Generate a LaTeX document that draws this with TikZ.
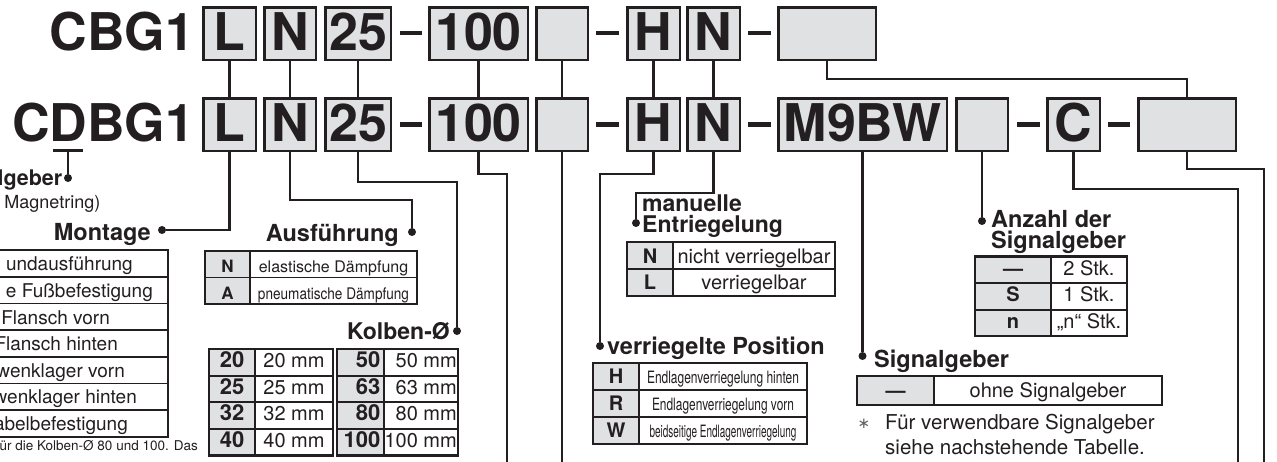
\documentclass[tikz,border=0pt]{standalone}
\usepackage{fontspec}
\setmainfont{TeX Gyre Heros}
\newfontfamily\djv{DejaVu Sans}
\usepackage{graphicx}
\definecolor{ink}{RGB}{35,31,32}
\definecolor{boxgray}{RGB}{224,225,226}
\newcommand\fs[1]{\fontsize{#1}{#1}\selectfont}
\tikzset{
 codetxt/.style={font=\bfseries\fs{52}, text=ink, inner sep=0pt},
 codebox/.style={draw=ink, line width=2.5pt, fill=boxgray, minimum height=52.5pt, inner sep=0pt, font=\bfseries\fs{52}, text=ink, text height=34pt, text depth=0pt},
 conn/.style={draw=ink, line width=2.2pt},
 dashmark/.style={draw=ink, line width=4.5pt},
 dot/.style={circle, fill=ink, inner sep=0pt, minimum size=8pt},
 lbl/.style={font=\bfseries\fs{23.5}, text=ink, inner sep=0pt},
 tx/.style={font=\fs{20}, text=ink, inner sep=0pt},
 txb/.style={font=\bfseries\fs{20}, text=ink, inner sep=0pt},
 frame/.style={draw=ink, line width=2.5pt},
 rule/.style={draw=ink, line width=1.8pt},
 graycell/.style={fill=boxgray},
}
\begin{document}
\begin{tikzpicture}[x=1pt,y=-1pt]
\useasboundingbox (0,0) rectangle (1277,461);
\clip (0,0) rectangle (1277,461);
\fill[white] (0,0) rectangle (1277,461);

% ---------- code rows ----------
\node[codetxt, anchor=base east] (t1) at (194.3,50.5) {CBG1};
\node[codetxt, anchor=base east] (t2) at (194.3,141.5) {CDBG1};

\node[codebox, minimum width=52.5pt] (a1) at (229.5,33.5) {L};
\node[codebox, minimum width=51.5pt] (b1) at (290,33.5) {N};
\node[codebox, minimum width=65.5pt] (c1) at (358,33.5) {25};
\node[codebox, minimum width=98.5pt] (d1) at (478.5,33.5) {100};
\node[codebox, minimum width=51.5pt] (e1) at (562,33.5) {};
\node[codebox, minimum width=52.5pt] (f1) at (653.5,33.5) {H};
\node[codebox, minimum width=52.5pt] (g1) at (713.5,33.5) {N};
\node[codebox, minimum width=97.5pt] (h1) at (827,33.5) {};

\node[codebox, minimum width=52.5pt] (a2) at (229.5,124.5) {L};
\node[codebox, minimum width=51.5pt] (b2) at (290,124.5) {N};
\node[codebox, minimum width=65.5pt] (c2) at (358,124.5) {25};
\node[codebox, minimum width=98.5pt] (d2) at (478.5,124.5) {100};
\node[codebox, minimum width=51.5pt] (e2) at (562,124.5) {};
\node[codebox, minimum width=52.5pt] (f2) at (653.5,124.5) {H};
\node[codebox, minimum width=52.5pt] (g2) at (713.5,124.5) {N};
\node[codebox, minimum width=168.5pt] (m2) at (862.5,124.5) {M9BW};
\node[codebox, minimum width=51.5pt] (s2) at (982,124.5) {};
\node[codebox, minimum width=52.5pt] (k2) at (1073.5,124.5) {C};
\node[codebox, minimum width=97.5pt] (x2) at (1187,124.5) {};

% dashes
\draw[dashmark] (400,33) -- (422,33);
\draw[dashmark] (596,33) -- (619,33);
\draw[dashmark] (748,33) -- (771,33);
\draw[dashmark] (400,124.5) -- (422,124.5);
\draw[dashmark] (596,124.5) -- (619,124.5);
\draw[dashmark] (748,124.5) -- (771,124.5);
\draw[dashmark] (1017,124.5) -- (1040,124.5);
\draw[dashmark] (1108,124.5) -- (1130,124.5);

% row1 -> row2
\draw[conn] (a1.south) -- (a2.north);
\draw[conn] (b1.south) -- (b2.north);
\draw[conn] (c1.south) -- (c2.north);
\draw[conn] (d1.south) -- (d2.north);
\draw[conn] (e1.south) -- (e2.north);
\draw[conn] (f1.south) -- (f2.north);
\draw[conn] (g1.south) -- (g2.north);
\draw[conn] (h1.south) -- ++(0,18) -| (x2.north);

% ---------- dots / label anchors ----------
\coordinate (uL) at (53,150.5);
\coordinate (uR) at (83,150.5);
\coordinate (uM) at (68,150.5);
\node[dot] (dSg0) at (68,178) {};
\node[dot] (dMon) at (162,230) {};
\node[dot] (dAus) at (412,232) {};
\node[dot] (dKol) at (457,331) {};
\node[dot] (dVer) at (600,346) {};
\node[dot] (dMan) at (636,223) {};
\node[dot] (dAnz) at (982,221) {};
\node[dot] (dSig) at (862.5,356) {};
\coordinate (e100) at (507,462);
\coordinate (eE) at (562,462);
\coordinate (eC) at (1238,462);
\coordinate (eX) at (1264,462);

\draw[conn] (uL) -- (uR);
\draw[conn] (uM) -- (dSg0);
\draw[conn] (a2.south) |- (dMon);
\draw[conn] (b2.south) -- ++(0,48) -| (dAus);
\draw[conn] (c2.south) -- ++(0,30) -| (dKol);
\draw[conn] (d2.south) -- ++(0,22) -| (e100);
\draw[conn] (e2.south) -- (eE);
\draw[conn] (f2.south) -- ++(0,22) -| (dVer);
\draw[conn] (g2.south) -- ++(0,41) -| (dMan);
\draw[conn] (m2.south) -- (dSig);
\draw[conn] (s2.south) -- (dAnz);
\draw[conn] (k2.south) -- ++(0,37) -| (eC);
\draw[conn] (x2.south) -- ++(0,17) -| (eX);

% ---------- labels ----------
\node[lbl, font=\bfseries\fs{21.5}, anchor=base east] (lSg0) at (62.5,185) {lgeber};
\node[tx, font=\fs{18}, anchor=base east] (lMag) at (100.5,208) {Magnetring)};
\node[lbl, anchor=base east] (lMon) at (151,240) {Montage};
\node[lbl, anchor=base east] (lAus) at (399,241) {Ausführung};
\node[lbl, font=\bfseries\fs{23}, anchor=base east] (lKol) at (450,339) {Kolben-Ø};
\node[lbl, anchor=base west] (lVer) at (607,354) {verriegelte Position};
\node[lbl, font=\bfseries\fs{23}, anchor=base west] (lMan1) at (642,211.5) {manuelle};
\node[lbl, font=\bfseries\fs{23}, anchor=base west] (lMan2) at (642,232) {Entriegelung};
\node[lbl, anchor=base west] (lAnz1) at (991,227) {Anzahl der};
\node[lbl, anchor=base west] (lAnz2) at (991,248) {Signalgeber};
\node[lbl, anchor=base west] (lSig) at (874,367) {Signalgeber};

% ---------- Montage table (cut at left) ----------
\draw[rule] (-5,276.7) -- (168,276.7);
\draw[rule] (-5,303.4) -- (168,303.4);
\draw[rule] (-5,330.1) -- (168,330.1);
\draw[rule] (-5,356.8) -- (168,356.8);
\draw[rule] (-5,383.5) -- (168,383.5);
\draw[rule] (-5,410.2) -- (168,410.2);
\draw[frame] (-5,250) -- (168,250) -- (168,436.9) -- (-5,436.9);
\node[tx, font=\fs{19}, anchor=base east] (m1) at (133,270.5) {undausführung};
\node[tx, font=\fs{19}, anchor=base east] (m2t) at (153,297) {e Fußbefestigung};
\node[tx, font=\fs{19}, anchor=base east] (m3) at (110,324) {Flansch vorn};
\node[tx, font=\fs{19}, anchor=base east] (m4) at (118,350.5) {Flansch hinten};
\node[tx, font=\fs{19}, anchor=base east] (m5) at (125,377) {hwenklager vorn};
\node[tx, font=\fs{19}, anchor=base east] (m6) at (137,403.5) {wenklager hinten};
\node[tx, font=\fs{19}, anchor=base east] (m7) at (128,430) {abelbefestigung};
\node[tx, font=\fs{13.5}, anchor=base east] (mfn) at (198,450.5) {für die Kolben-Ø 80 und 100. Das};

% ---------- Ausfuehrung table ----------
\fill[graycell] (205,251) rectangle (250,304);
\draw[rule] (205,277.5) -- (417,277.5);
\draw[rule] (250,251) -- (250,304);
\draw[frame] (205,251) rectangle (417,304);
\node[txb, font=\bfseries\fs{17}, anchor=base] (aN) at (227.5,272.5) {N};
\node[tx, font=\fs{16}, anchor=base] (aNt) at (333.5,272.5) {elastische Dämpfung};
\node[txb, font=\bfseries\fs{17}, anchor=base] (aA) at (227.5,299) {A};
\node[tx, font=\fs{16}, anchor=base] (aAt) at (333.5,299) {\resizebox{151pt}{\height}{pneumatische Dämpfung}};

% ---------- Kolben tables ----------
\fill[graycell] (209,349) rectangle (255,455.4);
\fill[graycell] (337,349) rectangle (384,455.4);
\foreach \yy in {375.6,402.2,428.8}{
  \draw[rule] (209,\yy) -- (333,\yy);
  \draw[rule] (337,\yy) -- (458,\yy);
}
\draw[rule] (255,349) -- (255,455.4);
\draw[rule] (384,349) -- (384,455.4);
\draw[frame] (209,349) rectangle (333,455.4);
\draw[frame] (337,349) rectangle (458,455.4);
\node[txb, font=\bfseries\fs{22}, anchor=base] (k20) at (232,367.5) {20};
\node[txb, font=\bfseries\fs{22}, anchor=base] (k25) at (232,394.1) {25};
\node[txb, font=\bfseries\fs{22}, anchor=base] (k32) at (232,420.7) {32};
\node[txb, font=\bfseries\fs{22}, anchor=base] (k40) at (232,447.3) {40};
\node[tx, anchor=base] (k20t) at (294,367.5) {20 mm};
\node[tx, anchor=base] (k25t) at (294,394.1) {25 mm};
\node[tx, anchor=base] (k32t) at (294,420.7) {32 mm};
\node[tx, anchor=base] (k40t) at (294,447.3) {40 mm};
\node[txb, font=\bfseries\fs{22}, anchor=base east] (k50) at (380.5,367.5) {50};
\node[txb, font=\bfseries\fs{22}, anchor=base east] (k63) at (380.5,394.1) {63};
\node[txb, font=\bfseries\fs{22}, anchor=base east] (k80) at (380.5,420.7) {80};
\node[txb, font=\bfseries\fs{22}, anchor=base east] (k100) at (380.5,447.3) {100};
\node[tx, anchor=base east] (k50t) at (457,367.5) {50 mm};
\node[tx, anchor=base east] (k63t) at (457,394.1) {63 mm};
\node[tx, anchor=base east] (k80t) at (457,420.7) {80 mm};
\node[tx, anchor=base east] (k100t) at (457,447.3) {100 mm};

% ---------- verriegelte Position table ----------
\fill[graycell] (593,363) rectangle (639,444);
\draw[rule] (593,390) -- (807,390);
\draw[rule] (593,417) -- (807,417);
\draw[rule] (639,363) -- (639,444);
\draw[frame] (593,363) rectangle (807,444);
\node[txb, anchor=base] (vH) at (616,383.5) {H};
\node[txb, anchor=base] (vR) at (616,410.5) {R};
\node[txb, anchor=base] (vW) at (616,437.5) {W};
\node[tx, font=\fs{17}, anchor=base] (vHt) at (723,383.5) {\resizebox{152pt}{\height}{Endlagenverriegelung hinten}};
\node[tx, font=\fs{17}, anchor=base] (vRt) at (723,410.5) {\resizebox{142pt}{\height}{Endlagenverriegelung vorn}};
\node[tx, font=\fs{17}, anchor=base] (vWt) at (723,437.5) {\resizebox{147pt}{\height}{beidseitige Endlagenverriegelung}};

% ---------- manuelle Entriegelung table ----------
\fill[graycell] (627,242) rectangle (673,296);
\draw[rule] (627,269) -- (835,269);
\draw[rule] (673,242) -- (673,296);
\draw[frame] (627,242) rectangle (835,296);
\node[txb, anchor=base] (eN) at (650,263) {N};
\node[txb, anchor=base] (eL) at (650,289.5) {L};
\node[tx, anchor=base] (eNt) at (754,263) {nicht verriegelbar};
\node[tx, anchor=base] (eLt) at (754,289.5) {verriegelbar};

% ---------- Anzahl table ----------
\fill[graycell] (975,256.7) rectangle (1051,336);
\draw[rule] (975,283.2) -- (1127,283.2);
\draw[rule] (975,309.6) -- (1127,309.6);
\draw[rule] (1051,256.7) -- (1051,336);
\draw[frame] (975,256.7) rectangle (1127,336);
\node[txb, anchor=base] (z1) at (1013,275) {—};
\node[txb, anchor=base] (z2) at (1013,301.5) {S};
\node[txb, anchor=base] (z3) at (1013,328) {n};
\node[tx, anchor=base] (z1t) at (1089,275) {2 Stk.};
\node[tx, anchor=base] (z2t) at (1089,301.5) {1 Stk.};
\node[tx, anchor=base] (z3t) at (1089,328) {„n“ Stk.};

% ---------- Signalgeber table ----------
\fill[graycell] (857,376) rectangle (934,405);
\draw[rule] (934,376) -- (934,405);
\draw[frame] (857,376) rectangle (1162,405);
\node[txb, anchor=base] (sg1) at (895.5,397.5) {—};
\node[tx, anchor=base] (sg1t) at (1048,397.5) {ohne Signalgeber};
\node[tx, font=\djv\fs{15}, text=ink!70, anchor=base] (ast) at (864,428) {∗};
\node[tx, font=\fs{20.5}, anchor=base west] (fn1) at (885,429) {Für verwendbare Signalgeber};
\node[tx, font=\fs{20.5}, anchor=base west] (fn2) at (885,454) {siehe nachstehende Tabelle.};
\end{tikzpicture}
\end{document}
